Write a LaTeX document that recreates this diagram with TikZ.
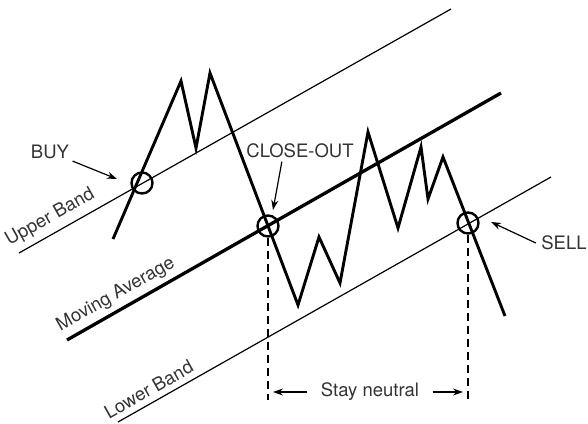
\documentclass[tikz,border=0pt]{standalone}
\usepackage{fontspec}
\setmainfont{TeX Gyre Heros}
\usetikzlibrary{arrows.meta}

\begin{document}
\begin{tikzpicture}[x=1pt, y=-1pt, >={Stealth[length=10pt, width=7pt]},
    band/.style={line width=1.2pt},
    price/.style={line width=2.9pt},
    ring/.style={circle, draw, line width=2.4pt, minimum size=21pt, inner sep=0pt},
    lbl/.style={font=\fontsize{18.5}{21}\selectfont, text=black!80},
    pointer/.style={->, line width=1.2pt},
    guide/.style={line width=1.1pt, dash pattern=on 8pt off 5pt}]

\useasboundingbox (0,0) rectangle (588,423);

% Bands
\draw[band] (19,253) -- (451,9)
    node[lbl, sloped, above=3pt, pos=0.09] {Upper Band};
\draw[line width=3.3pt] (67,340) -- (501,93)
    node[lbl, sloped, above=1.5pt, pos=0.13] {Moving Average};
\draw[band] (118,422) -- (551,177)
    node[lbl, sloped, above=2.5pt, pos=0.086] {Lower Band};

% Price
\draw[price] (113,239) -- (181,81) -- (196,148) -- (210,73) -- (298,305)
    -- (319,237) -- (340,283) -- (368,132) -- (398,228) -- (421,147)
    -- (428,199) -- (443,157) -- (505,316);

% Signals
\node[ring] (cbuy) at (142,183) {};
\node[ring] (cclose) at (268,226) {};
\node[ring] (csell) at (468,223) {};

% Labels
\node[lbl] (buy) at (50,152) {BUY};
\node[lbl] (closeout) at (300,151) {CLOSE-OUT};
\node[lbl] (sell) at (564,243) {SELL};
\node[lbl] (stay) at (370,392) {Stay neutral};

% Arrows to the signals
\coordinate (buytip) at (117,179);
\coordinate (closetip) at (273,210);
\coordinate (selltip) at (491,222);
\draw[pointer] (buy) -- (buytip);
\draw[pointer] ([xshift=39pt]closeout.south west) -- (closetip);
\draw[pointer] ([xshift=-2pt]sell.west) -- (selltip);

% Neutral zone
\coordinate (closebot) at (268,400);
\coordinate (sellbot) at (468,400);
\draw[guide] (cclose.south) -- (closebot);
\draw[guide] (csell.south) -- (sellbot);
\draw[pointer, shorten >=5pt] ([xshift=-10pt]stay.west) -- (closebot |- stay);
\draw[pointer, shorten >=5pt] ([xshift=10pt]stay.east) -- (sellbot |- stay);

\end{tikzpicture}
\end{document}
